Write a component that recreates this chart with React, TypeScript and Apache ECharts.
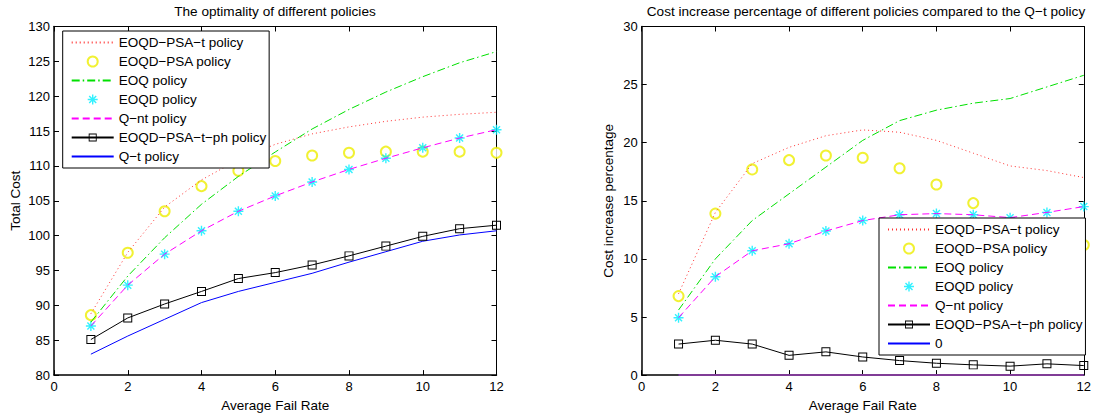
import React, { useEffect, useRef } from "react";
import * as echarts from "echarts";

const FONT = '"Liberation Sans", Arial, Helvetica, sans-serif';

const failRate = [1, 2, 3, 4, 5, 6, 7, 8, 9, 10, 11, 12];

// Left chart: total cost
const costPsaT = [88.8, 97.6, 104.1, 108.0, 110.9, 113.1, 114.6, 115.6, 116.4, 117.0, 117.4, 117.7];
const costPsa = [88.6, 97.55, 103.5, 107.1, 109.3, 110.7, 111.5, 111.9, 112.05, 112.05, 112.05, 111.9];
const costEoq = [87.6, 94.2, 99.7, 104.5, 108.5, 112.0, 115.3, 118.1, 120.6, 122.8, 124.8, 126.4];
const costEoqd = [87.05, 92.9, 97.35, 100.7, 103.5, 105.7, 107.7, 109.5, 111.1, 112.6, 114.0, 115.2];
const costQnt = [87.05, 92.9, 97.35, 100.7, 103.5, 105.7, 107.7, 109.5, 111.1, 112.6, 114.0, 115.2];
const costPh = [85.1, 88.2, 90.2, 92.0, 93.85, 94.7, 95.8, 97.1, 98.5, 99.9, 101.0, 101.5];
const costQt = [83.0, 85.6, 88.0, 90.4, 92.0, 93.3, 94.6, 96.2, 97.7, 99.2, 100.1, 100.7];

// Right chart: cost increase percentage vs Q-t
const pctPsaT = [7.0, 14.0, 18.2, 19.6, 20.6, 21.1, 20.9, 20.2, 19.1, 18.0, 17.6, 17.0];
const pctPsa = [6.8, 13.9, 17.7, 18.5, 18.9, 18.7, 17.8, 16.4, 14.8, 13.0, 11.9, 11.2];
const pctEoq = [5.6, 10.0, 13.3, 15.6, 17.9, 20.2, 21.9, 22.8, 23.4, 23.8, 24.8, 25.8];
const pctEoqd = [4.94, 8.47, 10.7, 11.3, 12.4, 13.3, 13.8, 13.9, 13.8, 13.55, 14.0, 14.5];
const pctQnt = [4.94, 8.47, 10.7, 11.3, 12.4, 13.3, 13.8, 13.9, 13.8, 13.55, 14.0, 14.5];
const pctPh = [2.67, 3.0, 2.67, 1.7, 2.0, 1.56, 1.25, 1.02, 0.88, 0.77, 0.97, 0.82];
const pctZero = [0, 0, 0, 0, 0, 0, 0, 0, 0, 0, 0, 0];

const names = {
  psaT: "EOQD\u2212PSA\u2212t policy",
  psa: "EOQD\u2212PSA policy",
  eoq: "EOQ policy",
  eoqd: "EOQD policy",
  qnt: "Q\u2212nt policy",
  ph: "EOQD\u2212PSA\u2212t\u2212ph policy",
  qt: "Q\u2212t policy",
  zero: "0",
};

const titles = [
  "The optimality of different policies",
  "Cost increase percentage of different policies compared to the Q\u2212t policy",
];

const STAR =
  "path://M-0.7,-5L0.7,-5L0.7,5L-0.7,5Z M-5,-0.7L5,-0.7L5,0.7L-5,0.7Z M-3.0,-4.0L4.0,3.0L3.0,4.0L-4.0,-3.0Z M-4.0,3.0L3.0,-4.0L4.0,-3.0L-3.0,4.0Z";
// hollow square outline (outer clockwise, inner counter-clockwise)
const SQUARE = "path://M-5,-5L5,-5L5,5L-5,5Z M-3.9,-3.9L-3.9,3.9L3.9,3.9L3.9,-3.9Z";

const pairs = (ys: number[]) => failRate.map((x, i) => [x, ys[i]]);

function seriesFor(gi: number, d: number[][], lastName: string) {
  const ax = { xAxisIndex: gi * 2, yAxisIndex: gi * 2 };
  return [
    {
      ...ax,
      type: "line",
      name: names.psaT,
      data: pairs(d[0]),
      symbol: "none",
      itemStyle: { color: "#ff3030" },
      lineStyle: { color: "#ff3030", width: 1, type: [1, 3] },
    },
    {
      ...ax,
      type: "scatter",
      name: names.psa,
      data: pairs(d[1]),
      symbol: "emptyCircle",
      symbolSize: 10,
      itemStyle: { color: "#eeee00", borderWidth: 1.2 },
    },
    {
      ...ax,
      type: "line",
      name: names.eoq,
      data: pairs(d[2]),
      symbol: "none",
      itemStyle: { color: "#00e000" },
      lineStyle: { color: "#00e000", width: 1, type: [8, 3, 1.5, 3] },
    },
    {
      ...ax,
      type: "scatter",
      name: names.eoqd,
      data: pairs(d[3]),
      symbol: STAR,
      symbolSize: 10,
      itemStyle: { color: "#00eeff" },
    },
    {
      ...ax,
      type: "line",
      name: names.qnt,
      data: pairs(d[4]),
      symbol: "none",
      itemStyle: { color: "#ff00ff" },
      lineStyle: { color: "#ff00ff", width: 1, type: [7, 4] },
    },
    {
      ...ax,
      type: "line",
      name: names.ph,
      data: pairs(d[5]),
      symbol: SQUARE,
      symbolSize: 9,
      showSymbol: true,
      itemStyle: { color: "#000" },
      lineStyle: { color: "#000", width: 1 },
    },
    {
      ...ax,
      type: "line",
      name: lastName,
      data: pairs(d[6]),
      symbol: "none",
      z: 3,
      itemStyle: { color: "#0000ff" },
      lineStyle: { color: "#0000ff", width: 1 },
    },
  ];
}

const textBase = { color: "#000", fontFamily: FONT };

function axesFor(gi: number, ymin: number, ymax: number, yName: string, yGap: number) {
  const tick = { inside: true, length: 5, lineStyle: { color: "#000", width: 1 } };
  const x = [
    {
      type: "value",
      gridIndex: gi,
      min: 0,
      max: 12,
      interval: 2,
      position: "bottom",
      axisLine: { show: true, onZero: false, lineStyle: { color: "#000", width: 1.5 } },
      axisTick: tick,
      axisLabel: { ...textBase, fontSize: 13, margin: 5 },
      splitLine: { show: false },
      name: "Average Fail Rate",
      nameLocation: "middle",
      nameGap: 21,
      nameTextStyle: { ...textBase, fontSize: 13.5 },
    },
    {
      type: "value",
      gridIndex: gi,
      min: 0,
      max: 12,
      interval: 2,
      position: "top",
      axisLine: { show: true, onZero: false, lineStyle: { color: "#000", width: 1 } },
      axisTick: tick,
      axisLabel: { show: false },
      splitLine: { show: false },
    },
  ];
  const y = [
    {
      type: "value",
      gridIndex: gi,
      min: ymin,
      max: ymax,
      interval: 5,
      position: "left",
      axisLine: { show: true, onZero: false, lineStyle: { color: "#000", width: 1.5 } },
      axisTick: tick,
      axisLabel: { ...textBase, fontSize: 13, margin: 4 },
      splitLine: { show: false },
      name: yName,
      nameLocation: "middle",
      nameGap: yGap,
      nameTextStyle: { ...textBase, fontSize: 13.5 },
    },
    {
      type: "value",
      gridIndex: gi,
      min: ymin,
      max: ymax,
      interval: 5,
      position: "right",
      axisLine: { show: true, onZero: false, lineStyle: { color: "#000", width: 1 } },
      axisTick: tick,
      axisLabel: { show: false },
      splitLine: { show: false },
    },
  ];
  return { x, y };
}

const legendBase = {
  orient: "vertical",
  itemWidth: 42,
  itemHeight: 10,
  itemGap: 4,
  padding: [4, 3, 4, 8],
  borderColor: "#000",
  borderWidth: 1,
  borderRadius: 0,
  backgroundColor: "#fff",
  selectedMode: false,
  textStyle: { ...textBase, fontSize: 13.5, lineHeight: 15 },
  z: 10,
};

const noMarker = (name: string) => ({ name, itemStyle: { opacity: 0 } });

export default function App() {
  const ref = useRef<HTMLDivElement>(null);
  useEffect(() => {
    if (!ref.current) return;
    const chart = echarts.init(ref.current, undefined, { renderer: "svg" });
    const a0 = axesFor(0, 80, 130, "Total Cost", 32);
    const a1 = axesFor(1, 0, 30, "Cost increase percentage", 26);
    const legendData = (lastName: string) => [
      noMarker(names.psaT),
      names.psa,
      noMarker(names.eoq),
      names.eoqd,
      noMarker(names.qnt),
      names.ph,
      noMarker(lastName),
    ];
    chart.setOption({
      animation: false,
      backgroundColor: "#fff",
      title: [
        {
          text: titles[0],
          left: 275,
          textAlign: "center",
          top: 4,
          padding: 0,
          textStyle: { ...textBase, fontSize: 13.6, fontWeight: "normal" },
        },
        {
          text: titles[1],
          left: 866,
          textAlign: "center",
          top: 4,
          padding: 0,
          textStyle: { ...textBase, fontSize: 13.6, fontWeight: "normal" },
        },
      ],
      grid: [
        { left: 54, top: 26.5, width: 442.5, height: 349.5 },
        { left: 641.7, top: 26.5, width: 444.3, height: 349.5 },
      ],
      xAxis: [...a0.x, ...a1.x],
      yAxis: [...a0.y, ...a1.y],
      legend: [
        { ...legendBase, left: 62.7, top: 31, data: legendData(names.qt) },
        { ...legendBase, left: 879, top: 218, data: legendData(names.zero) },
      ],
      series: [
        ...seriesFor(0, [costPsaT, costPsa, costEoq, costEoqd, costQnt, costPh, costQt], names.qt),
        ...seriesFor(1, [pctPsaT, pctPsa, pctEoq, pctEoqd, pctQnt, pctPh, pctZero], names.zero),
        {
          // the zero line shows purple where it lies over the axis
          type: "line",
          name: "zero-overlay",
          xAxisIndex: 2,
          yAxisIndex: 2,
          data: pairs(pctZero),
          symbol: "none",
          z: 4,
          silent: true,
          lineStyle: { color: "#803c96", width: 2 },
        },
      ],
    });
    return () => chart.dispose();
  }, []);
  return (
    <div
      ref={ref}
      style={{ position: "absolute", left: 0, top: 0, width: 1094, height: 417, background: "#fff" }}
    />
  );
}
